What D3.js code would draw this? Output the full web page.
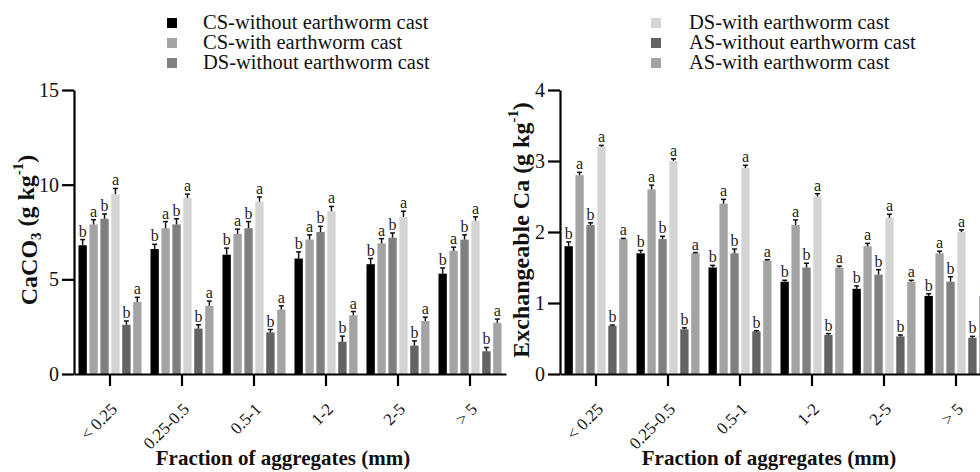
<!DOCTYPE html>
<html>
<head>
<meta charset="utf-8">
<script src="https://cdn.jsdelivr.net/npm/d3@7"></script>
<style>
	body { margin: 0; background: #fff; }
	svg { display: block; font-family: "Liberation Serif", "Times New Roman", serif; }
</style>
</head>
<body>
<svg id="chart" width="980" height="472"></svg>
<script>
/*global d3 */
// categories on the x axis
var fractions = ['< 0.25', '0.25-0.5', '0.5-1', '1-2', '2-5', '> 5'];

// series (legend order)
var seriesNames = [
	'CS-without earthworm cast',
	'CS-with earthworm cast',
	'DS-without earthworm cast',
	'DS-with earthworm cast',
	'AS-without earthworm cast',
	'AS-with earthworm cast'
];
var seriesColors = ['#000000', '#a3a3a3', '#7f7f7f', '#d4d4d4', '#636363', '#a3a3a3'];

// CaCO3 (g kg-1), one row per series, one value per fraction
var caco3Means = [
	[6.8, 6.6, 6.3, 6.1, 5.8, 5.3],
	[7.9, 7.7, 7.4, 7.1, 6.9, 6.5],
	[8.2, 7.9, 7.7, 7.5, 7.2, 7.1],
	[9.5, 9.3, 9.1, 8.6, 8.3, 8.1],
	[2.6, 2.4, 2.2, 1.7, 1.5, 1.2],
	[3.8, 3.6, 3.4, 3.1, 2.8, 2.7]
];
var caco3Errors = [
	[0.30, 0.25, 0.35, 0.35, 0.30, 0.30],
	[0.25, 0.35, 0.25, 0.25, 0.25, 0.20],
	[0.25, 0.30, 0.35, 0.30, 0.25, 0.25],
	[0.30, 0.20, 0.25, 0.25, 0.30, 0.20],
	[0.20, 0.20, 0.15, 0.30, 0.25, 0.20],
	[0.25, 0.25, 0.20, 0.20, 0.20, 0.20]
];
var caco3Letters = ['b', 'a', 'b', 'a', 'b', 'a'];
var caco3Ticks = [0, 5, 10, 15];

// Exchangeable Ca (g kg-1)
var caMeans = [
	[1.80, 1.70, 1.50, 1.30, 1.20, 1.10],
	[2.80, 2.60, 2.40, 2.10, 1.80, 1.70],
	[2.10, 1.90, 1.70, 1.50, 1.40, 1.30],
	[3.20, 3.00, 2.90, 2.50, 2.20, 2.00],
	[0.68, 0.63, 0.60, 0.55, 0.53, 0.51],
	[1.90, 1.70, 1.60, 1.50, 1.30, 1.10]
];
var caErrors = [
	[0.06, 0.04, 0.03, 0.02, 0.04, 0.03],
	[0.04, 0.06, 0.06, 0.07, 0.04, 0.03],
	[0.03, 0.04, 0.06, 0.06, 0.07, 0.07],
	[0.02, 0.03, 0.04, 0.04, 0.05, 0.03],
	[0.01, 0.02, 0.01, 0.02, 0.02, 0.02],
	[0.01, 0.01, 0.01, 0.02, 0.02, 0.02]
];
var caLetters = ['b', 'a', 'b', 'a', 'b', 'a'];
var caTicks = [0, 1, 2, 3, 4];

(function () {
	'use strict';
	var svg = d3.select('#chart'),
		plotTop = 90,
		plotBottom = 374,
		groupStep = 72,
		drawPanel, drawLegend, addTitle;

	addTitle = function (sel, parts) {
		// parts: [text, 'sub'|'sup'|null, dy]
		parts.forEach(function (p) {
			var t = sel.append('tspan').text(p[0]);
			if (p[1] === 'sub') {
				t.attr('font-size', '0.62em').attr('dy', '0.3em');
			} else if (p[1] === 'sup') {
				t.attr('font-size', '0.62em').attr('dy', '-0.75em');
			} else if (p[2]) {
				t.attr('dy', p[2]);
			}
		});
	};

	drawPanel = function (p) {
		var g, x, inner, y, yAxis, xAxis, group, yt;
		g = svg.append('g');

		x = d3.scaleBand()
			.domain(fractions)
			.range([p.left, p.left + groupStep * fractions.length])
			.paddingInner(0.125)
			.paddingOuter(0.0625);
		inner = d3.scaleBand()
			.domain(d3.range(seriesNames.length))
			.range([0, x.bandwidth()])
			.paddingInner(0.24);
		y = d3.scaleLinear().domain([0, p.max]).range([plotBottom, plotTop]);

		// bars
		group = g.selectAll('g.grp')
			.data(fractions)
			.enter().append('g')
			.attr('class', 'grp')
			.attr('transform', function (d) { return 'translate(' + x(d) + ',0)'; });

		group.each(function (f, fi) {
			var gg = d3.select(this),
				rows = seriesNames.map(function (s, si) {
					return { si: si, v: p.means[si][fi], e: p.errors[si][fi], l: p.letters[si] };
				}),
				mid = function (d) { return inner(d.si) + inner.bandwidth() / 2; };

			gg.selectAll('rect')
				.data(rows)
				.enter().append('rect')
				.attr('x', function (d) { return inner(d.si); })
				.attr('width', inner.bandwidth())
				.attr('y', function (d) { return y(d.v); })
				.attr('height', function (d) { return plotBottom - y(d.v); })
				.attr('fill', function (d) { return seriesColors[d.si]; });

			// error bars (upper half only)
			gg.selectAll('line.err')
				.data(rows)
				.enter().append('line')
				.attr('class', 'err')
				.attr('x1', mid)
				.attr('x2', mid)
				.attr('y1', function (d) { return y(d.v); })
				.attr('y2', function (d) { return y(d.v + d.e); })
				.attr('stroke', '#111')
				.attr('stroke-width', 1.5);
			gg.selectAll('line.cap')
				.data(rows)
				.enter().append('line')
				.attr('class', 'cap')
				.attr('x1', function (d) { return mid(d) - 2.5; })
				.attr('x2', function (d) { return mid(d) + 2.5; })
				.attr('y1', function (d) { return y(d.v + d.e); })
				.attr('y2', function (d) { return y(d.v + d.e); })
				.attr('stroke', '#111')
				.attr('stroke-width', 1.5);

			// significance letters
			gg.selectAll('text.lt')
				.data(rows)
				.enter().append('text')
				.attr('class', 'lt')
				.attr('x', mid)
				.attr('y', function (d) { return y(d.v + d.e) - 3; })
				.attr('text-anchor', 'middle')
				.attr('font-size', 16)
				.attr('fill', '#222')
				.text(function (d) { return d.l; });
		});

		// y axis
		yAxis = g.append('g')
			.attr('transform', 'translate(' + p.left + ',0)')
			.call(d3.axisLeft(y).tickValues(p.ticks).tickFormat(d3.format('d'))
				.tickSize(12).tickSizeOuter(0).tickPadding(3));
		yAxis.attr('font-family', null).attr('font-size', null);
		yAxis.selectAll('path, line').attr('stroke', '#000').attr('stroke-width', 2.2);
		yAxis.selectAll('text').attr('font-size', 20).attr('fill', '#111');

		// x axis
		xAxis = g.append('g')
			.attr('transform', 'translate(0,' + plotBottom + ')')
			.call(d3.axisBottom(x).tickSize(12).tickSizeOuter(0));
		xAxis.attr('font-family', null).attr('font-size', null);
		xAxis.selectAll('path, line').attr('stroke', '#000').attr('stroke-width', 2.2);
		xAxis.selectAll('text')
			.attr('font-size', 17)
			.attr('fill', '#111')
			.attr('text-anchor', 'end')
			.attr('y', null)
			.attr('dy', '0.6em')
			.attr('transform', 'translate(1,29) rotate(-45)');

		// axis titles
		g.append('text')
			.attr('x', p.left + 209)
			.attr('y', 465)
			.attr('text-anchor', 'middle')
			.attr('font-size', 21)
			.attr('font-weight', 'bold')
			.attr('fill', '#111')
			.text('Fraction of aggregates (mm)');

		yt = g.append('text')
			.attr('transform', 'translate(' + p.titleX + ',230) rotate(-90)')
			.attr('text-anchor', 'middle')
			.attr('font-size', 24)
			.attr('font-weight', 'bold')
			.attr('fill', '#111');
		addTitle(yt, p.title);
	};

	drawLegend = function (idx, sx, tx) {
		var lg = svg.append('g'),
			item = lg.selectAll('g')
				.data(idx)
				.enter().append('g')
				.attr('transform', function (d, i) { return 'translate(0,' + (23 + i * 20) + ')'; });
		item.append('rect')
			.attr('x', sx)
			.attr('y', -5)
			.attr('width', 10)
			.attr('height', 10)
			.attr('fill', function (d) { return seriesColors[d]; });
		item.append('text')
			.attr('x', tx)
			.attr('y', 6)
			.attr('font-size', 20.5)
			.attr('fill', '#111')
			.text(function (d) { return seriesNames[d]; });
	};

	drawPanel({
		left: 74, max: 15, ticks: caco3Ticks, titleX: 37,
		means: caco3Means, errors: caco3Errors, letters: caco3Letters,
		title: [['CaCO'], ['3', 'sub'], [' (g kg', null, '-0.3em'], ['-1', 'sup'], [')', null, '0.45em']]
	});
	drawPanel({
		left: 560, max: 4, ticks: caTicks, titleX: 529,
		means: caMeans, errors: caErrors, letters: caLetters,
		title: [['Exchangeable Ca (g kg'], ['-1', 'sup'], [')', null, '0.45em']]
	});

	drawLegend([0, 1, 2], 167, 203);
	drawLegend([3, 4, 5], 651, 689);
}());
</script>
</body>
</html>
